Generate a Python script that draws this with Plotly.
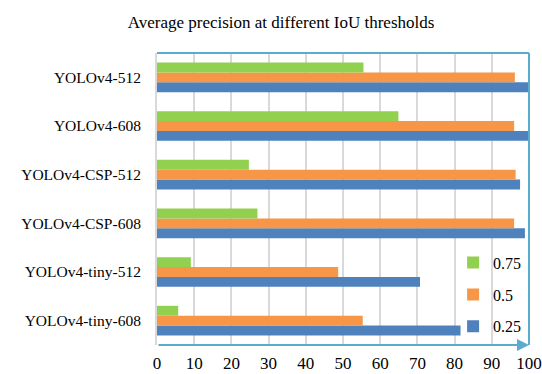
import plotly.graph_objects as go

categories = ["YOLOv4-512", "YOLOv4-608", "YOLOv4-CSP-512", "YOLOv4-CSP-608",
              "YOLOv4-tiny-512", "YOLOv4-tiny-608"]
ap_025 = [100, 100, 97.6, 98.9, 70.7, 81.6]
ap_050 = [96.2, 96.0, 96.4, 96.0, 48.7, 55.3]
ap_075 = [55.5, 64.9, 24.7, 27.0, 9.1, 5.7]
x_ticks = [0, 10, 20, 30, 40, 50, 60, 70, 80, 90, 100]

FONT = "Liberation Serif"
fig = go.Figure()
series = [("0.25", ap_025, "#4f81bd", 3), ("0.5", ap_050, "#f79646", 2), ("0.75", ap_075, "#92d050", 1)]
for name, vals, col, rank in series:
    fig.add_trace(go.Bar(y=categories, x=vals, name=name, orientation="h",
                         marker=dict(color=col, line=dict(width=0)),
                         legendgroup=name, legendrank=rank))

fig.update_layout(
    width=542, height=374,
    margin=dict(l=157, r=13, t=53, b=29, autoexpand=False),
    paper_bgcolor="white", plot_bgcolor="white",
    barmode="group", bargap=0.39, bargroupgap=0,
    font=dict(family=FONT, color="black"),
    title=dict(text="Average precision at different IoU thresholds",
               x=281/542, xanchor="center", y=1-22/374, yanchor="middle",
               font=dict(family=FONT, size=17, color="black")),
    xaxis=dict(range=[0, 100], tickvals=x_ticks, showgrid=True,
               gridcolor="#d9d9d9", gridwidth=2, zeroline=False,
               showline=False, ticks="", tickfont=dict(size=17), ticklabelstandoff=6),
    yaxis=dict(categoryorder="array", categoryarray=categories[::-1],
               showgrid=False, showline=True, linecolor="#d9d9d9", linewidth=2,
               ticks="", tickfont=dict(size=15.5), ticklabelstandoff=11),
    legend=dict(x=0.796, y=0.340, xanchor="left", yanchor="top",
                traceorder="grouped", tracegroupgap=8,
                bgcolor="rgba(0,0,0,0)", font=dict(size=16),
                itemwidth=30),
    showlegend=True,
)

frame_col = "#5aaccf"
# top and right frame lines
fig.add_shape(type="line", xref="paper", yref="paper", x0=0, x1=1, y0=1, y1=1,
              line=dict(color=frame_col, width=2))
fig.add_shape(type="line", xref="paper", yref="paper", x0=1, x1=1, y0=0, y1=1,
              line=dict(color=frame_col, width=2))
# bottom axis with arrow
fig.add_annotation(xref="x domain", yref="y domain", x=1.0, y=0, ax=0, ay=0,
                   axref="x domain", ayref="y domain", showarrow=True, arrowhead=2,
                   arrowsize=1.2, arrowwidth=2, arrowcolor=frame_col, text="")

fig.write_html("out.html")
